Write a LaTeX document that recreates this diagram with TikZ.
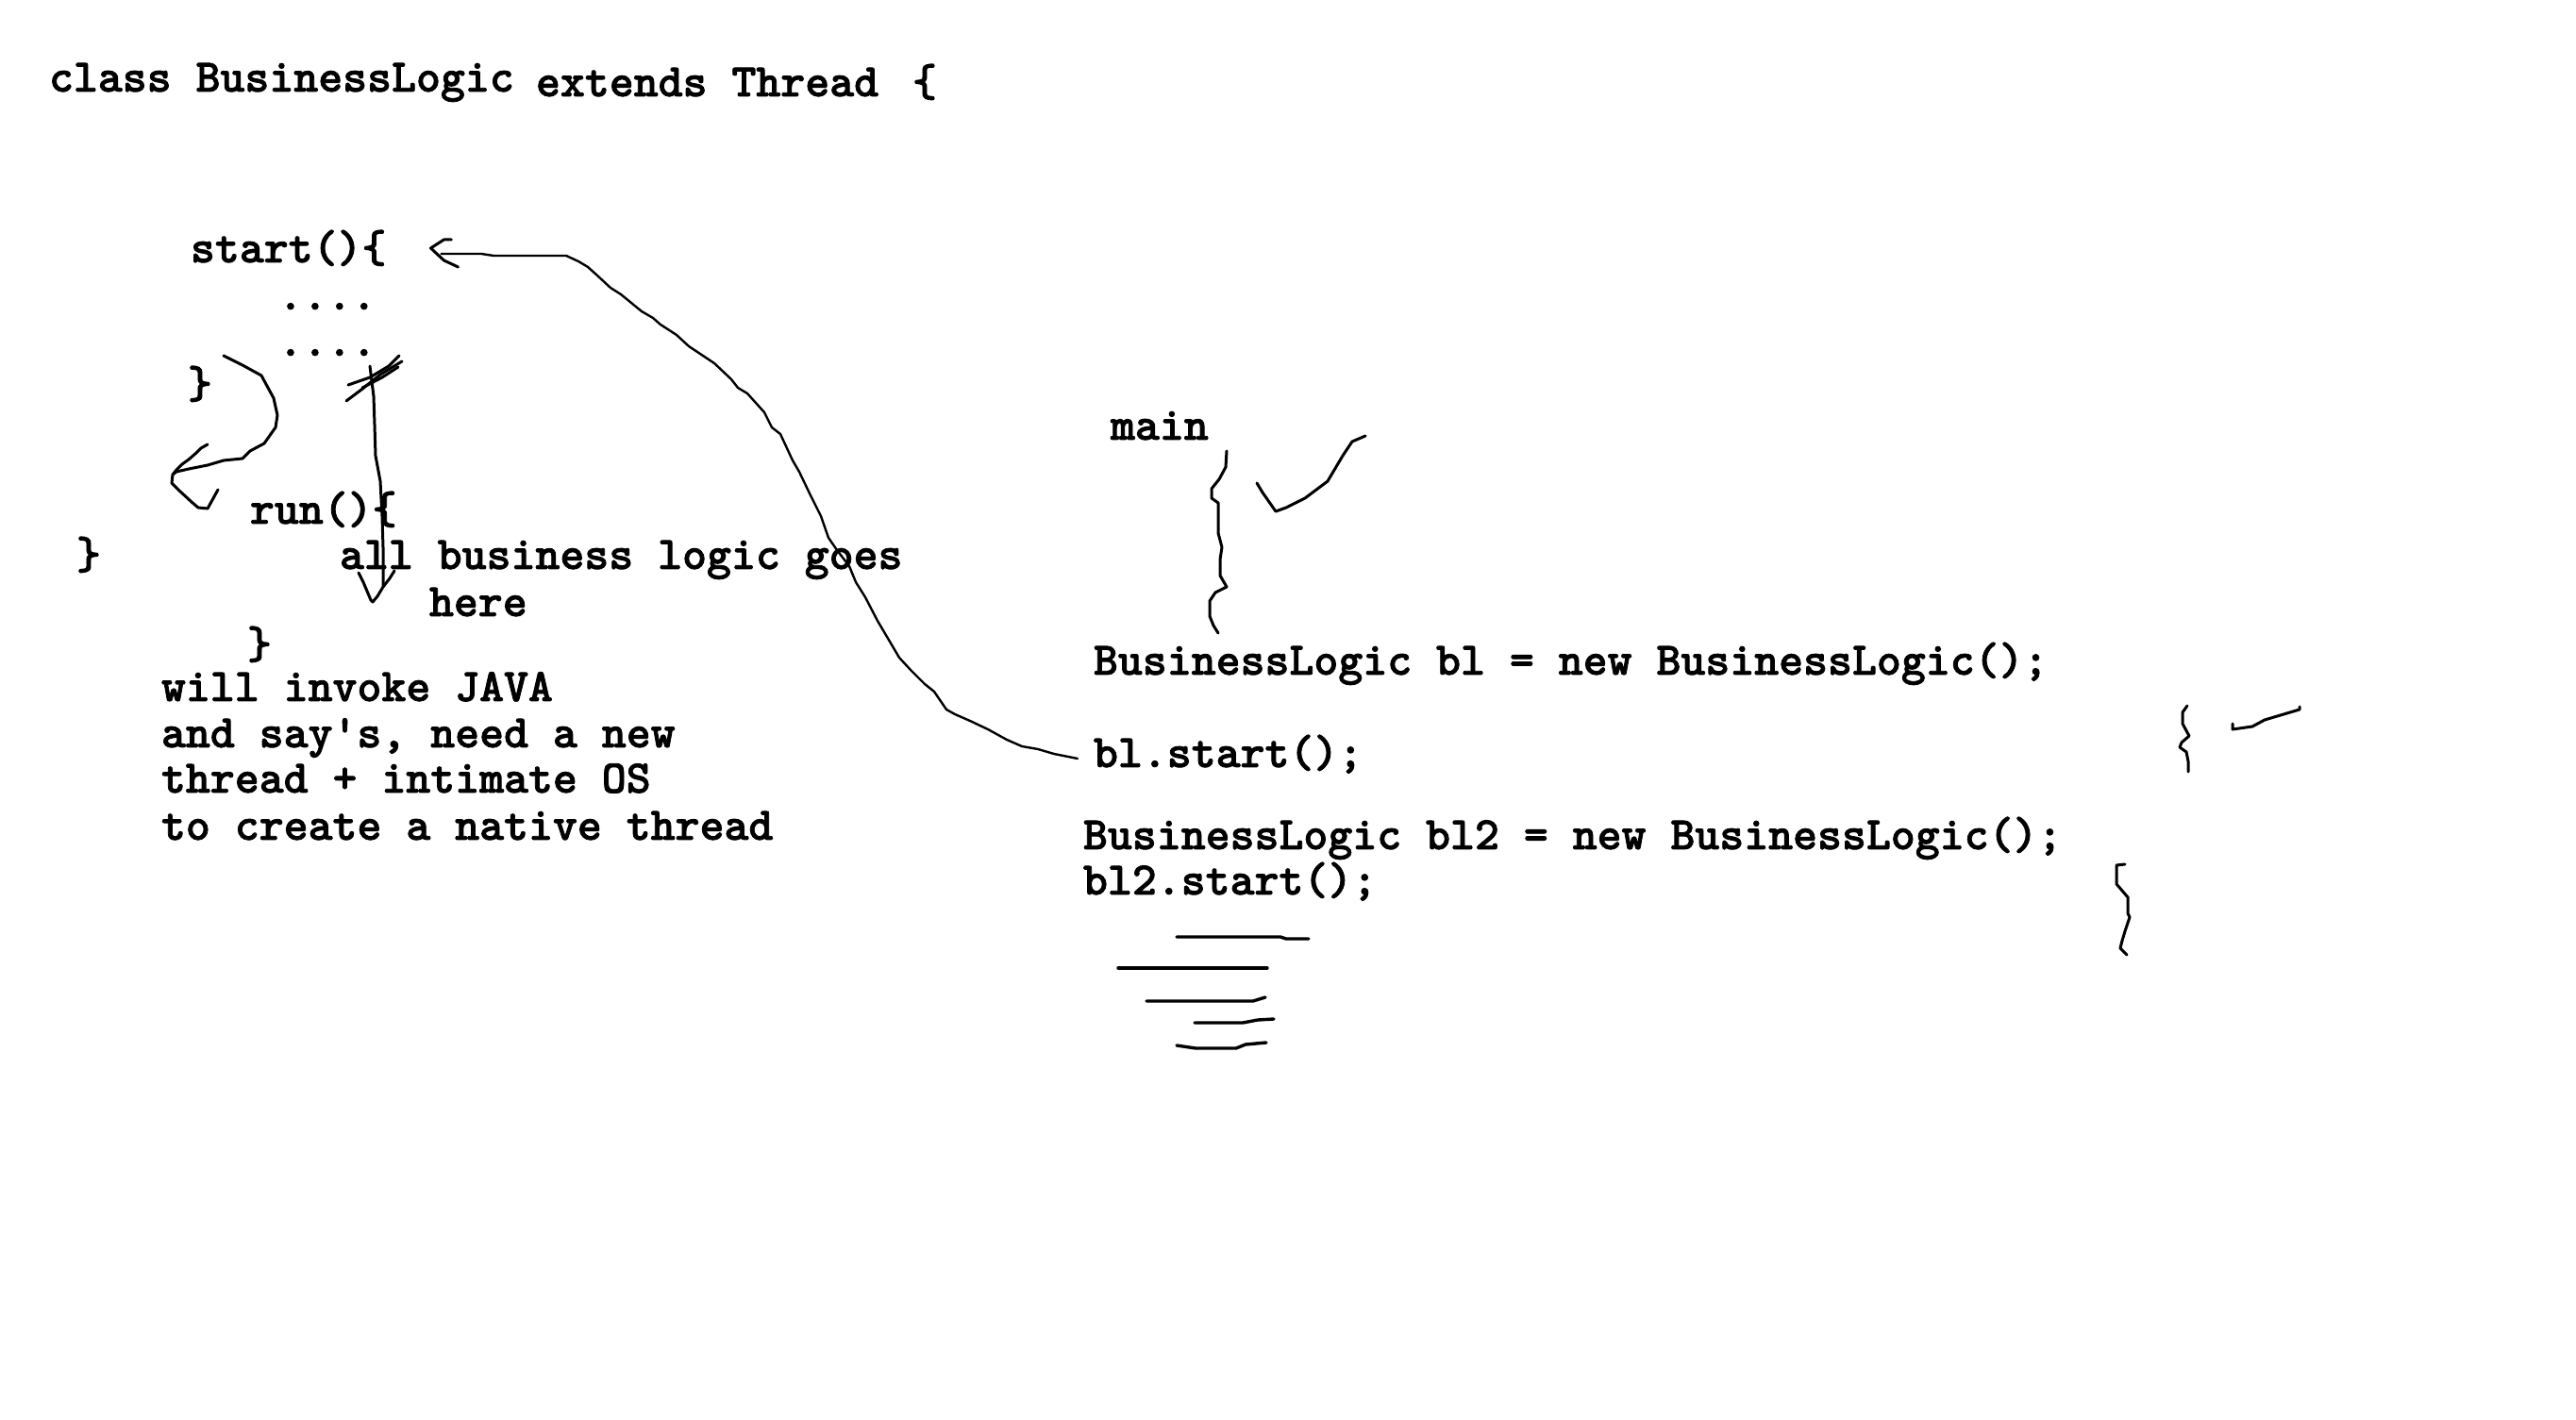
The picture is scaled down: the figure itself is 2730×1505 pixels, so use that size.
\documentclass[tikz,border=0pt]{standalone}
\usepackage{fontspec}
\newfontfamily\codefont{lmmonolt10-bold.otf}[FakeBold=1.6]
\usetikzlibrary{calc}
\begin{document}
\begin{tikzpicture}[x=0.25pt,y=-0.25pt,
  code/.style={anchor=base west,inner sep=0pt,outer sep=0pt,
    font=\fontsize{12.35}{14}\selectfont\codefont},
  pen/.style={line width=0.75pt,line cap=round,line join=round},
  thinpen/.style={line width=0.6pt,line cap=round,line join=round},
  thickpen/.style={line width=0.85pt,line cap=round,line join=round}]
\fill[white] (0,0) rectangle (2730,1505);
\useasboundingbox (0,0) rectangle (2730,1505);

% texts
\node[code] (cls) at (52,97) {class BusinessLogic};
\node[code] (ext) at (568,102) {extends Thread};
\node[code] (obr) at (967,102) {\{};
\node[code] (st) at (202,278) {start()\{};
\node[code] (d1) at (295,328) {....};
\node[code] (d2) at (295,377) {....};
\node[code] (cb1) at (199,422) {\}};
\node[code] (run) at (265,555) {run()\{};
\node[code] (cb0) at (81,603) {\}};
\node[code] (all) at (360,603) {all business logic goes};
\node[code] (here) at (455,653) {here};
\node[code] (cb2) at (262,698) {\}};
\node[code] (w1) at (171,743) {will invoke JAVA};
\node[code] (w2) at (171,792) {and say's, need a new};
\node[code] (w3) at (171,840) {thread + intimate OS};
\node[code] (w4) at (171,890) {to create a native thread};
\node[code] (main) at (1177,466) {main};
\node[code] (bl) at (1159,715) {BusinessLogic bl = new BusinessLogic();};
\node[code] (bls) at (1159,813) {bl.start();};
\node[code] (bl2) at (1148,900) {BusinessLogic bl2 = new BusinessLogic();};
\node[code] (bl2s) at (1148,948) {bl2.start();};

% connector from bl.start() to start()
\coordinate (cfrom) at ($(bls.base west)+(-17,-9)$);
\coordinate (cto) at ($(st.base east)+(47,-15)$);
\draw[thinpen] (cfrom) -- (1117,799) -- (1100,794) -- (1083,791) -- (1067,784) -- (1047,773)
  -- (1028,764) -- (1012,757) -- (1003,752) -- (990,733) -- (980,725) -- (965,710)
  -- (953,697) -- (943,680) -- (930,658) -- (917,633) -- (907,617) -- (900,600)
  -- (887,583) -- (878,570) -- (870,547) -- (858,523) -- (847,500) -- (840,488)
  -- (827,460) -- (818,453) -- (810,437) -- (792,417) -- (782,411) -- (775,402)
  -- (757,385) -- (730,367) -- (717,355) -- (700,344) -- (692,337) -- (680,330)
  -- (658,312) -- (647,305) -- (633,292) -- (623,283) -- (613,277) -- (600,271)
  -- (523,271) -- (510,269) -- ($(cto)+(11,6)$);
\draw[pen] ($(cto)+(22,-9)$) -- ($(cto)+(14,-9)$) -- (cto) -- ($(cto)+(14,13)$) -- ($(cto)+(29,20)$);

% curved arrow from start's closing brace to run()
\coordinate (lfrom) at (237,377);
\coordinate (ltip) at (183,503);
\draw[pen] (lfrom) -- (257,387) -- (277,398) -- (290,422) -- (294,440) -- (292,453)
  -- (280,470) -- (265,478) -- (257,486) -- (237,488) -- (220,493) -- (200,497)
  -- (187,500) -- (ltip);
\draw[pen] (220,471) -- (213,475) -- (208,480) -- (200,487) -- (193,492) -- (187,498) -- (ltip)
  -- (182,512) -- (190,520) -- (203,532) -- (210,538) -- (220,539) -- (225,530) -- (231,519);

% vertical arrow with scribble
\coordinate (vtop) at (392,388);
\coordinate (vtip) at (395,638);
\draw[pen] (vtop) -- (396,420) -- (397,450) -- (398,483) -- (403,510) -- (405,547)
  -- (406,580) -- (406,622);
\draw[pen] (380,607) -- (385,617) -- (393,636) -- (vtip) -- (400,632) -- (406,622) -- (413,613) -- (418,605);
\draw[pen] (369,408) -- (392,400) -- (412,388) -- (423,377);
\draw[pen] (367,425) -- (383,413) -- (403,397) -- (426,383);
\draw[pen] (384,411) -- (405,400) -- (422,389);

% main squiggle and check
\draw[pen] (1300,478) -- (1299,495) -- (1292,508) -- (1284,518) -- (1284,528) -- (1291,533)
  -- (1291,565) -- (1295,580) -- (1293,593) -- (1293,610) -- (1300,622) -- (1288,628)
  -- (1282,637) -- (1282,653) -- (1286,663) -- (1291,671);
\draw[pen] (1332,512) -- (1338,522) -- (1352,542) -- (1363,538) -- (1383,528) -- (1407,510)
  -- (1423,483) -- (1433,468) -- (1447,462);

% right squiggles
\draw[pen] (2318,748) -- (2313,755) -- (2313,767) -- (2320,780) -- (2312,787) -- (2310,792)
  -- (2317,797) -- (2319,807) -- (2319,818);
\draw[pen] (2366,767) -- (2366,773) -- (2387,770) -- (2400,763) -- (2437,752) -- (2437,749);
\draw[pen] (2252,916) -- (2243,917) -- (2243,937) -- (2255,951) -- (2255,968) -- (2257,972)
  -- (2252,987) -- (2249,997) -- (2247,1005) -- (2254,1012);

% underline strokes
\draw[thickpen] (1247,993) -- (1357,993) -- (1363,995) -- (1387,995);
\draw[thickpen] (1185,1026) -- (1343,1026);
\draw[thickpen] (1215,1061) -- (1328,1061) -- (1341,1057);
\draw[thickpen] (1266,1084) -- (1317,1084) -- (1333,1081) -- (1350,1080);
\draw[thickpen] (1247,1108) -- (1267,1111) -- (1310,1111) -- (1320,1107) -- (1342,1105);
\end{tikzpicture}
\end{document}
